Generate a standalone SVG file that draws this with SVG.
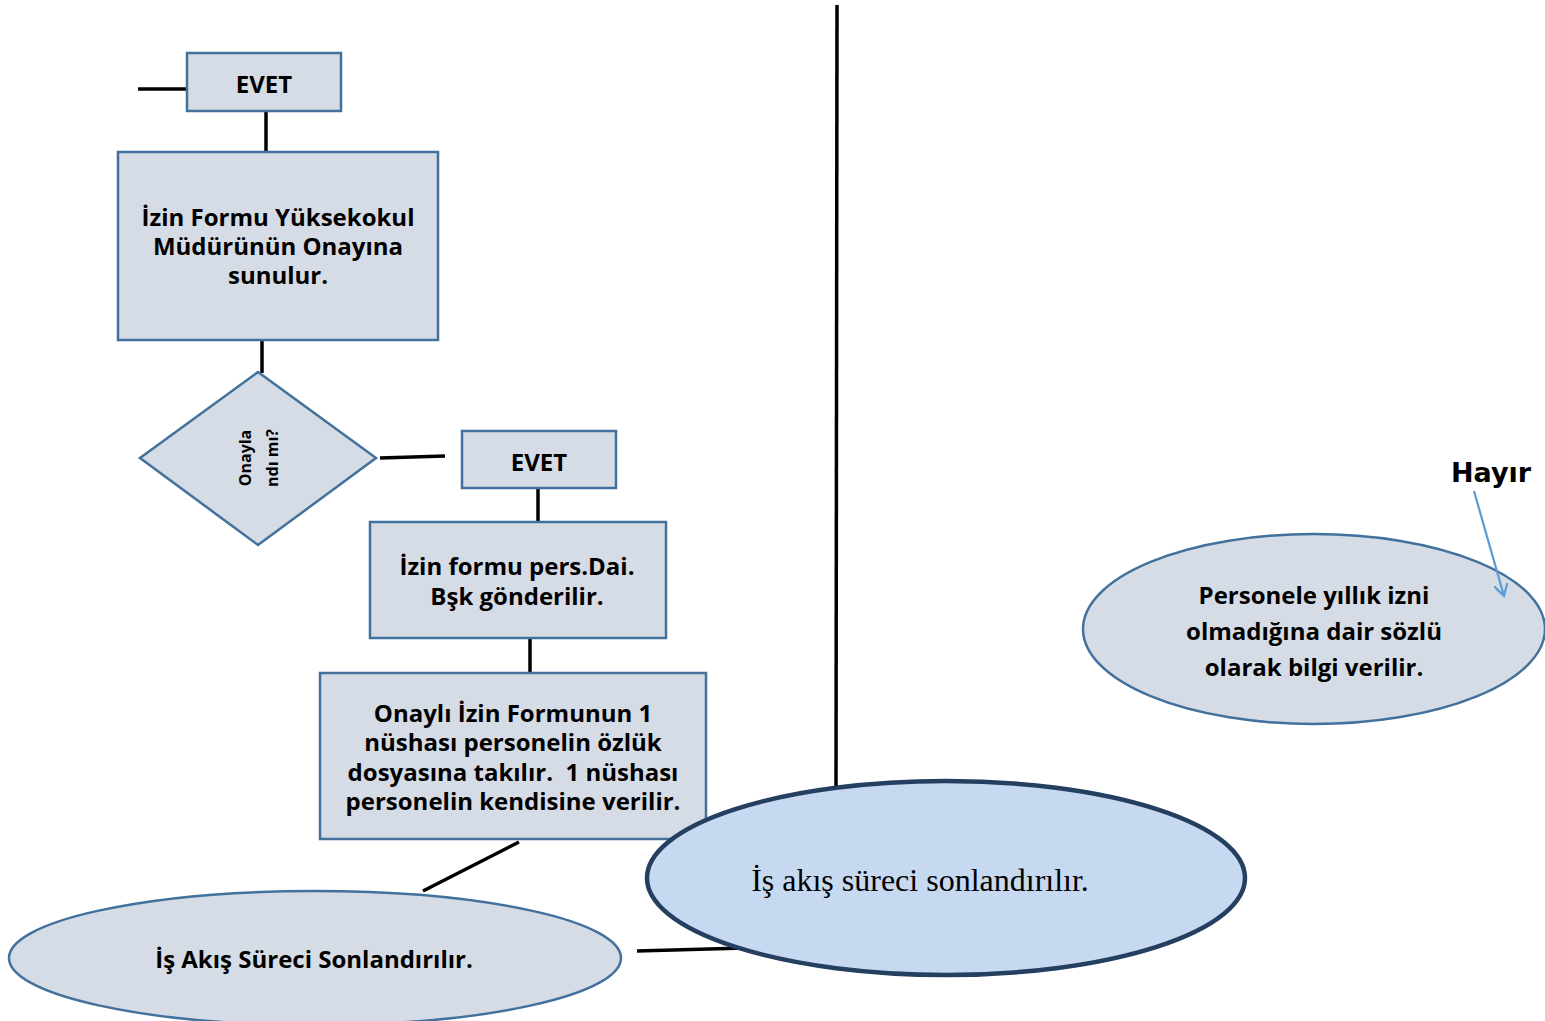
<svg xmlns="http://www.w3.org/2000/svg" width="1545" height="1021" viewBox="0 0 1545 1021">
<style>
.box{fill:#d6dce5;stroke:#41719c;stroke-width:2.5}
.ln{stroke:#000;stroke-width:3.5;fill:none}
.t{font-family:"Open Sans","Noto Sans","Liberation Sans",sans-serif;font-weight:bold;font-size:24px;fill:#000;text-anchor:middle;dominant-baseline:central}
.big{fill:#c6d9f1;stroke:#243f60;stroke-width:4.5}
</style>
<defs>
<marker id="ah" viewBox="0 0 14 14" refX="12" refY="7" markerWidth="14" markerHeight="14" markerUnits="userSpaceOnUse" orient="auto">
<path d="M0,0 L12,7 L0,14" fill="none" stroke="#5b9bd5" stroke-width="2.2"/>
</marker>
</defs>
<rect width="1545" height="1021" fill="#fff"/>
<g id="connectors">
<line class="ln" x1="837" y1="5" x2="836" y2="790"/>
<line class="ln" x1="138" y1="89" x2="187" y2="89"/>
<line class="ln" x1="266" y1="111" x2="266" y2="152"/>
<line class="ln" x1="262" y1="340" x2="262" y2="373"/>
<line class="ln" x1="380" y1="458" x2="445" y2="456"/>
<line class="ln" x1="538" y1="488" x2="538" y2="522"/>
<line class="ln" x1="530" y1="638" x2="530" y2="672"/>
<line class="ln" x1="519" y1="842" x2="423" y2="891"/>
<line class="ln" x1="637" y1="951" x2="745" y2="948"/>
</g>
<g id="evet1">
<rect class="box" x="187" y="53" width="154" height="58"/>
<text class="t" x="264" y="83">EVET</text>
</g>
<g id="mudur">
<rect class="box" x="118" y="152" width="320" height="188"/>
<text class="t" x="278" y="216">İzin Formu Yüksekokul</text>
<text class="t" x="278" y="245">Müdürünün Onayına</text>
<text class="t" x="278" y="274">sunulur.</text>
</g>
<g id="karar">
<polygon class="box" points="258,372 376,458 258,545 140,458"/>
<text class="t" style="font-size:16px" transform="translate(245,458) rotate(-90)">Onayla</text>
<text class="t" style="font-size:16px" transform="translate(272,458) rotate(-90)">ndı mı?</text>
</g>
<g id="evet2">
<rect class="box" x="462" y="431" width="154" height="57"/>
<text class="t" x="539" y="461">EVET</text>
</g>
<g id="persdai">
<rect class="box" x="370" y="522" width="296" height="116"/>
<text class="t" x="517" y="565">İzin formu pers.Dai.</text>
<text class="t" x="517" y="595">Bşk gönderilir.</text>
</g>
<g id="ozluk">
<rect class="box" x="320" y="673" width="386" height="166"/>
<text class="t" x="513" y="712">Onaylı İzin Formunun 1</text>
<text class="t" x="513" y="741">nüshası personelin özlük</text>
<text class="t" x="513" y="771" xml:space="preserve">dosyasına takılır.  1 nüshası</text>
<text class="t" x="513" y="800">personelin kendisine verilir.</text>
</g>
<g id="son1">
<ellipse class="box" cx="315" cy="958" rx="306" ry="67"/>
<text class="t" x="314" y="958">İş Akış Süreci Sonlandırılır.</text>
</g>
<g id="son2">
<ellipse class="big" cx="946" cy="878" rx="299" ry="97"/>
<text x="920" y="880" style="font-family:'Liberation Serif',serif;font-size:32px;fill:#000;text-anchor:middle;dominant-baseline:central">İş akış süreci sonlandırılır.</text>
</g>
<g id="bilgi">
<ellipse class="box" cx="1314" cy="629" rx="231" ry="95"/>
<text class="t" x="1314" y="594">Personele yıllık izni</text>
<text class="t" x="1314" y="630">olmadığına dair sözlü</text>
<text class="t" x="1314" y="666">olarak bilgi verilir.</text>
</g>
<g id="hayir">
<text x="1491" y="472" style="font-family:'DejaVu Sans',sans-serif;font-weight:bold;font-size:27px;fill:#000;text-anchor:middle;dominant-baseline:central">Hayır</text>
</g>
<g id="connectors-top">
<line x1="1474" y1="491" x2="1504" y2="596" stroke="#5b9bd5" stroke-width="2.2" marker-end="url(#ah)"/>
</g>
</svg>
